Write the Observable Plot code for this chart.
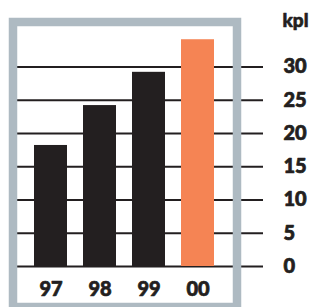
<!DOCTYPE html>
<html>
<head>
<meta charset="utf-8">
<script src="https://cdn.jsdelivr.net/npm/d3@7"></script>
<script src="https://cdn.jsdelivr.net/npm/@observablehq/plot@0.6"></script>
<style>
  html, body { margin: 0; padding: 0; background: #fff; }
  #chart svg { display: block; }
</style>
</head>
<body>
<div id="chart"></div>
<script>
const years = ["97", "98", "99", "00"];
const values = [18.2, 24.2, 29.2, 34.1];
const colors = ["#231f20", "#231f20", "#231f20", "#f58454"];
const yTicks = [0, 5, 10, 15, 20, 25, 30];
const unitLabel = "kpl";

const data = years.map((y, i) => ({year: y, value: values[i], color: colors[i]}));

const font = "Lato, 'Open Sans', sans-serif";
const ink = "#231f20";

const chart = Plot.plot({
  width: 312,
  height: 307,
  marginLeft: 17,
  marginRight: 81,
  marginTop: 0,
  marginBottom: 41,
  style: {fontFamily: font, background: "#fff"},
  x: {type: "band", domain: years, padding: 0.32, axis: null},
  y: {domain: [0, 40], axis: null},
  marks: [
    Plot.ruleY(yTicks, {stroke: ink, strokeWidth: 2.2, insetRight: -32}),
    Plot.barY(data, {x: "year", y: "value", fill: "color"}),
    Plot.frame({stroke: "#aebac2", strokeWidth: 8.5, insetLeft: -4.5, insetRight: -5.5, insetTop: 21.5, insetBottom: -40.5}),
    Plot.axisX({anchor: "bottom", tickSize: 0, tickPadding: 15, fontSize: 20, fontWeight: 900, fill: ink, textStroke: ink, textStrokeWidth: 0.7, textStrokeOpacity: 1, label: null}),
    Plot.axisY(yTicks, {anchor: "right", tickSize: 0, tickPadding: 52, fontSize: 20, fontWeight: 900, fill: ink, textStroke: ink, textStrokeWidth: 0.7, textStrokeOpacity: 1, textAnchor: "start", label: null}),
    Plot.text([unitLabel], {frameAnchor: "top-right", textAnchor: "start", lineAnchor: "middle", dx: 51, dy: 20, fontSize: 19, fontWeight: 900, fill: ink, stroke: ink, strokeWidth: 0.6})
  ]
});
document.getElementById("chart").appendChild(chart);
</script>
</body>
</html>
